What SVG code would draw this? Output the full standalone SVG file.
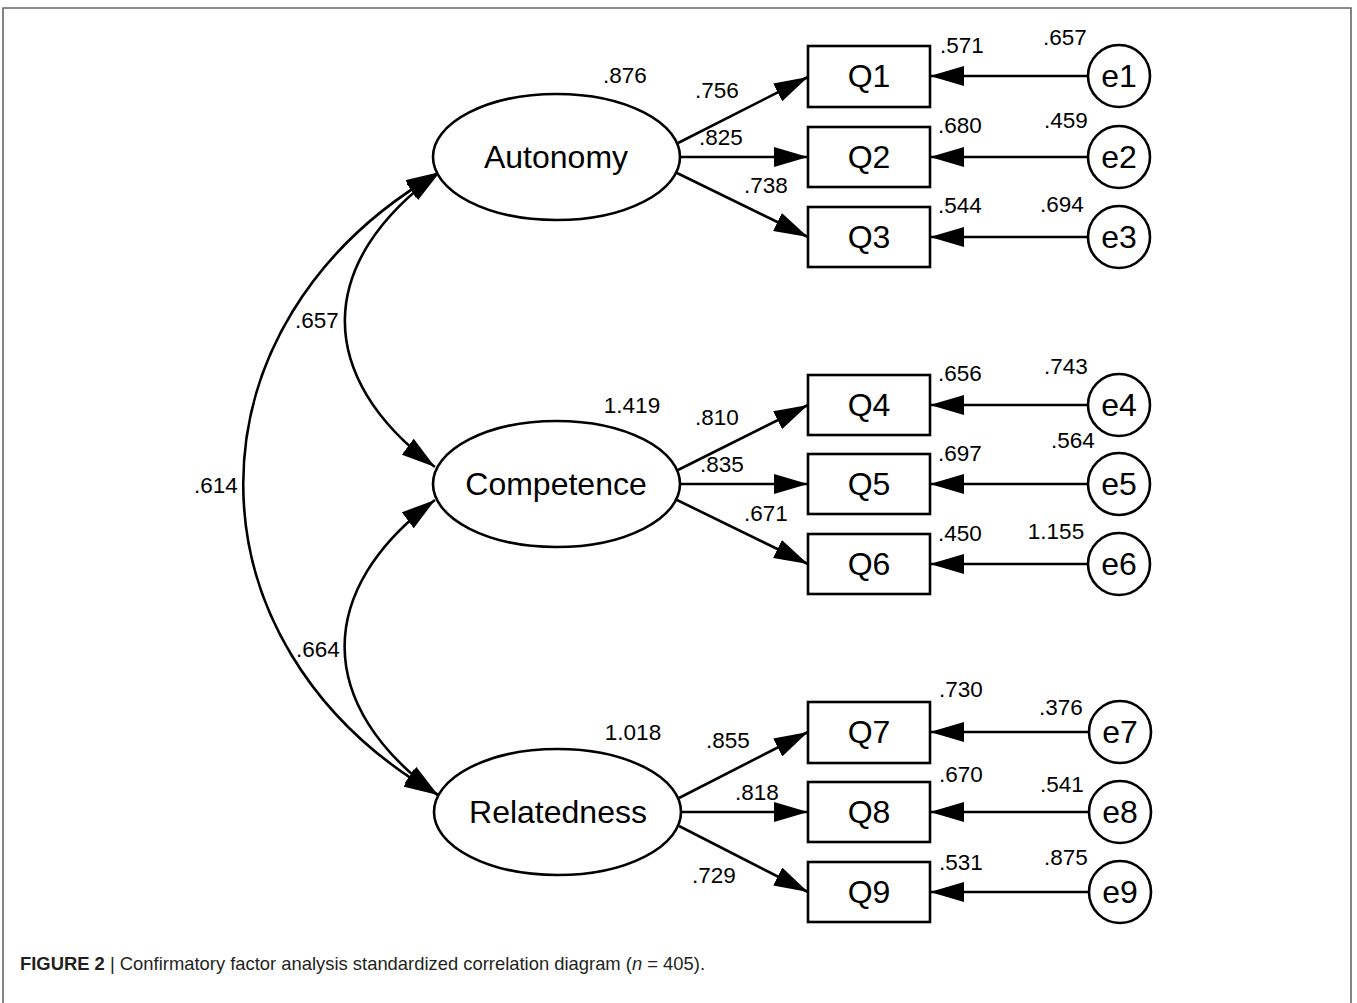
<svg xmlns="http://www.w3.org/2000/svg" width="1357" height="1003" viewBox="0 0 1357 1003">
  <style>
    .shape { fill: #fff; stroke: #000; stroke-width: 2.6; }
    .edge { fill: none; stroke: #000; stroke-width: 2.6; }
    .lat { font-family: "Liberation Sans", Arial, sans-serif; font-size: 32px; text-anchor: middle; fill: #000; }
    .num { font-family: "Liberation Sans", Arial, sans-serif; font-size: 22.5px; text-anchor: middle; fill: #000; }
    .cap { font-family: "Liberation Sans", Arial, sans-serif; font-size: 18.4px; fill: #231f20; }
  </style>
  <defs>
    <marker id="arrow" markerUnits="userSpaceOnUse" viewBox="0 0 34 20" refX="34" refY="10" markerWidth="34" markerHeight="20" orient="auto-start-reverse">
      <path d="M0,0 L34,10 L0,20 Z" fill="#000"/>
    </marker>
  </defs>

  <rect width="1357" height="1003" fill="#fff"/>
  <!-- figure frame (open at the bottom) -->
  <path d="M3,1003 V8 H1351 V1003" fill="none" stroke="#666" stroke-width="1.6"/>

  <!-- connectors -->
  <g id="connectors">
    <!-- factor covariances -->
    <path class="edge" d="M440,172 C178,322 178,645 438,795" marker-start="url(#arrow)" marker-end="url(#arrow)"/>
    <path class="edge" d="M440,172 C314,262 314,377 435,467" marker-start="url(#arrow)" marker-end="url(#arrow)"/>
    <path class="edge" d="M435,500 C314,590 314,705 438,795" marker-start="url(#arrow)" marker-end="url(#arrow)"/>
    <!-- loadings -->
    <path class="edge" d="M678,143 L808,77" marker-end="url(#arrow)"/>
    <path class="edge" d="M680,157 L808,157" marker-end="url(#arrow)"/>
    <path class="edge" d="M677,173 L808,237" marker-end="url(#arrow)"/>
    <path class="edge" d="M678,470 L808,405" marker-end="url(#arrow)"/>
    <path class="edge" d="M680,484 L808,484" marker-end="url(#arrow)"/>
    <path class="edge" d="M677,500 L808,564" marker-end="url(#arrow)"/>
    <path class="edge" d="M679,798 L808,732" marker-end="url(#arrow)"/>
    <path class="edge" d="M681,812 L808,812" marker-end="url(#arrow)"/>
    <path class="edge" d="M679,826 L808,892" marker-end="url(#arrow)"/>
    <!-- error terms -->
    <path class="edge" d="M1088,76 L930,76" marker-end="url(#arrow)"/>
    <path class="edge" d="M1088,157 L930,157" marker-end="url(#arrow)"/>
    <path class="edge" d="M1088,237 L930,237" marker-end="url(#arrow)"/>
    <path class="edge" d="M1088,405 L930,405" marker-end="url(#arrow)"/>
    <path class="edge" d="M1088,484 L930,484" marker-end="url(#arrow)"/>
    <path class="edge" d="M1088,564 L930,564" marker-end="url(#arrow)"/>
    <path class="edge" d="M1088,732 L930,732" marker-end="url(#arrow)"/>
    <path class="edge" d="M1088,812 L930,812" marker-end="url(#arrow)"/>
    <path class="edge" d="M1088,892 L930,892" marker-end="url(#arrow)"/>
  </g>

  <!-- latent factors -->
  <g id="autonomy">
    <ellipse class="shape" cx="556.5" cy="157" rx="123.5" ry="63"/>
    <text class="lat" x="556" y="168">Autonomy</text>
    <text class="num" x="625" y="83">.876</text>
  </g>
  <g id="competence">
    <ellipse class="shape" cx="556.5" cy="484" rx="123.5" ry="63"/>
    <text class="lat" x="556" y="495">Competence</text>
    <text class="num" x="632" y="413">1.419</text>
  </g>
  <g id="relatedness">
    <ellipse class="shape" cx="557.5" cy="812" rx="123.5" ry="63"/>
    <text class="lat" x="558" y="823">Relatedness</text>
    <text class="num" x="633" y="740">1.018</text>
  </g>

  <!-- indicators -->
  <g id="q1"><rect class="shape" x="808" y="46" width="122" height="61"/><text class="lat" x="869" y="87">Q1</text><text class="num" x="962" y="53">.571</text></g>
  <g id="q2"><rect class="shape" x="808" y="127" width="122" height="60"/><text class="lat" x="869" y="168">Q2</text><text class="num" x="960" y="133">.680</text></g>
  <g id="q3"><rect class="shape" x="808" y="207" width="122" height="60"/><text class="lat" x="869" y="248">Q3</text><text class="num" x="960" y="213">.544</text></g>
  <g id="q4"><rect class="shape" x="808" y="375" width="122" height="60"/><text class="lat" x="869" y="416">Q4</text><text class="num" x="960" y="381">.656</text></g>
  <g id="q5"><rect class="shape" x="808" y="454" width="122" height="60"/><text class="lat" x="869" y="495">Q5</text><text class="num" x="960" y="461">.697</text></g>
  <g id="q6"><rect class="shape" x="808" y="534" width="122" height="60"/><text class="lat" x="869" y="575">Q6</text><text class="num" x="960" y="541">.450</text></g>
  <g id="q7"><rect class="shape" x="808" y="702" width="122" height="61"/><text class="lat" x="869" y="743">Q7</text><text class="num" x="961" y="697">.730</text></g>
  <g id="q8"><rect class="shape" x="808" y="782" width="122" height="60"/><text class="lat" x="869" y="823">Q8</text><text class="num" x="961" y="782">.670</text></g>
  <g id="q9"><rect class="shape" x="808" y="862" width="122" height="60"/><text class="lat" x="869" y="903">Q9</text><text class="num" x="961" y="870">.531</text></g>

  <!-- error terms -->
  <g id="e1"><circle class="shape" cx="1119" cy="76" r="31"/><text class="lat" x="1119" y="87">e1</text><text class="num" x="1065" y="45">.657</text></g>
  <g id="e2"><circle class="shape" cx="1119" cy="157" r="31"/><text class="lat" x="1119" y="168">e2</text><text class="num" x="1066" y="128">.459</text></g>
  <g id="e3"><circle class="shape" cx="1119" cy="237" r="31"/><text class="lat" x="1119" y="248">e3</text><text class="num" x="1062" y="212">.694</text></g>
  <g id="e4"><circle class="shape" cx="1119" cy="405" r="31"/><text class="lat" x="1119" y="416">e4</text><text class="num" x="1066" y="374">.743</text></g>
  <g id="e5"><circle class="shape" cx="1119" cy="484" r="31"/><text class="lat" x="1119" y="495">e5</text><text class="num" x="1073" y="448">.564</text></g>
  <g id="e6"><circle class="shape" cx="1119" cy="564" r="31"/><text class="lat" x="1119" y="575">e6</text><text class="num" x="1056" y="539">1.155</text></g>
  <g id="e7"><circle class="shape" cx="1120" cy="732" r="31"/><text class="lat" x="1120" y="743">e7</text><text class="num" x="1061" y="715">.376</text></g>
  <g id="e8"><circle class="shape" cx="1120" cy="812" r="31"/><text class="lat" x="1120" y="823">e8</text><text class="num" x="1062" y="792">.541</text></g>
  <g id="e9"><circle class="shape" cx="1120" cy="892" r="31"/><text class="lat" x="1120" y="903">e9</text><text class="num" x="1066" y="865">.875</text></g>

  <!-- path coefficients -->
  <g id="coefficients">
    <text class="num" x="717" y="98">.756</text>
    <text class="num" x="721" y="145">.825</text>
    <text class="num" x="766" y="193">.738</text>
    <text class="num" x="717" y="425">.810</text>
    <text class="num" x="722" y="472">.835</text>
    <text class="num" x="766" y="521">.671</text>
    <text class="num" x="728" y="748">.855</text>
    <text class="num" x="757" y="800">.818</text>
    <text class="num" x="714" y="883">.729</text>
    <text class="num" x="317" y="328">.657</text>
    <text class="num" x="216" y="493">.614</text>
    <text class="num" x="318" y="657">.664</text>
  </g>

  <!-- caption -->
  <text class="cap" x="20" y="970"><tspan font-weight="bold">FIGURE 2</tspan> | Confirmatory factor analysis standardized correlation diagram (<tspan font-style="italic">n</tspan> = 405).</text>
</svg>
